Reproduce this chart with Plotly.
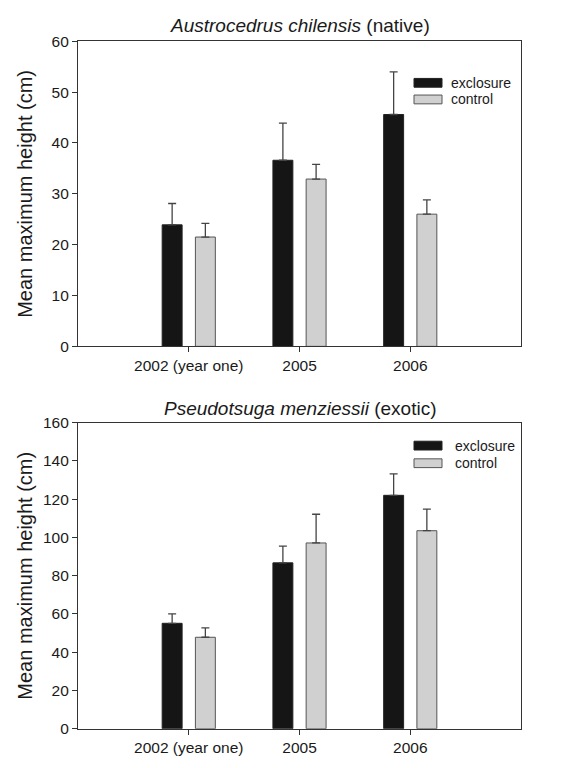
import plotly.graph_objects as go
from plotly.subplots import make_subplots

categories = ["2002 (year one)", "2005", "2006"]
series_names = ["exclosure", "control"]

# Austrocedrus chilensis (native)
aus_exclosure = [23.9, 36.6, 45.6]
aus_exclosure_err = [4.2, 7.3, 8.4]
aus_control = [21.5, 32.9, 26.0]
aus_control_err = [2.7, 2.9, 2.8]

# Pseudotsuga menziessii (exotic)
pse_exclosure = [55.1, 86.7, 122.0]
pse_exclosure_err = [4.9, 8.7, 11.2]
pse_control = [47.8, 97.1, 103.5]
pse_control_err = [4.9, 15.0, 11.3]

titles = ["<i>Austrocedrus chilensis</i> (native)", "<i>Pseudotsuga menziessii</i> (exotic)"]
y_title = "Mean maximum height (cm)"

FONT = "Liberation Sans, Arial, sans-serif"
TXT = "#1a1a1a"
DARK = "#151515"
LIGHT = "#d0d0d0"
ERRC = "#444444"

W, H = 568, 768
x0p, x1p = 78, 521
doms = [(33, 345), (423, 736)]

fig = make_subplots(rows=2, cols=1)

panels = [
    (aus_exclosure, aus_exclosure_err, aus_control, aus_control_err, [0, 60], 10),
    (pse_exclosure, pse_exclosure_err, pse_control, pse_control_err, [0, 160], 20),
]

for i, (ex, exe, co, coe, yr, dt) in enumerate(panels):
    row = i + 1
    for name, vals, errs, color, lcol, off in [
        (series_names[0], ex, exe, DARK, "#222222", -0.24),
        (series_names[1], co, coe, LIGHT, "#555555", 0.06),
    ]:
        fig.add_trace(go.Bar(
            x=categories, y=vals, name=name, showlegend=False,
            width=0.18, offset=off,
            marker=dict(color=color, line=dict(color=lcol, width=1)),
            error_y=dict(type="data", array=errs, arrayminus=[0] * len(errs),
                         symmetric=False, color=ERRC, thickness=1.3, width=4),
        ), row=row, col=1)

    top, bot = doms[i]
    ydom = [1 - bot / H, 1 - top / H]
    xdom = [x0p / W, x1p / W]
    axis_common = dict(showline=True, linecolor="#333333", linewidth=1.2, mirror=True,
                       ticks="outside", ticklen=5, tickcolor="#333333", tickwidth=1,
                       showgrid=False, zeroline=False,
                       tickfont=dict(family=FONT, size=15.5, color=TXT))
    fig.update_xaxes(domain=xdom, range=[-1, 3], type="category", row=row, col=1, **axis_common)
    fig.update_yaxes(domain=ydom, range=yr, dtick=dt, row=row, col=1, **axis_common)

    # title
    tcenter = 17 if i == 0 else 409
    fig.add_annotation(text=titles[i], xref="paper", yref="paper",
                       x=(x0p + x1p) / 2 / W, y=1 - tcenter / H,
                       xanchor="center", yanchor="middle", showarrow=False,
                       font=dict(family=FONT, size=19, color=TXT))
    # y-axis title
    fig.add_annotation(text=y_title, xref="paper", yref="paper",
                       x=25 / W, y=1 - (top + bot) / 2 / H, textangle=-90,
                       xanchor="center", yanchor="middle", showarrow=False,
                       font=dict(family=FONT, size=20, color=TXT))

    # legend (manual, wide swatches)
    xr = "x domain" if i == 0 else "x2 domain"
    yref = "y domain" if i == 0 else "y2 domain"
    leg_rows = [(71, 80), (88, 97)] if i == 0 else [(442, 451), (460, 469)]
    text_x = 449 if i == 0 else 453
    for (ly0, ly1), name, color, lcol in zip(leg_rows, series_names, [DARK, LIGHT], ["#222222", "#555555"]):
        fig.add_shape(type="rect", xref=xr, yref=yref,
                      x0=(414 - x0p) / (x1p - x0p), x1=(442 - x0p) / (x1p - x0p),
                      y0=(bot - ly1) / (bot - top), y1=(bot - ly0) / (bot - top),
                      fillcolor=color, line=dict(color=lcol, width=1))
        fig.add_annotation(text=name, xref=xr, yref=yref,
                           x=(text_x - x0p) / (x1p - x0p),
                           y=(bot - (ly0 + ly1) / 2) / (bot - top),
                           xanchor="left", yanchor="middle", showarrow=False,
                           font=dict(family=FONT, size=14, color=TXT))

fig.update_layout(
    width=W, height=H, margin=dict(l=0, r=0, t=0, b=0),
    paper_bgcolor="white", plot_bgcolor="white",
    barmode="overlay", showlegend=False,
    font=dict(family=FONT, color=TXT),
)

fig.write_html("out.html")
